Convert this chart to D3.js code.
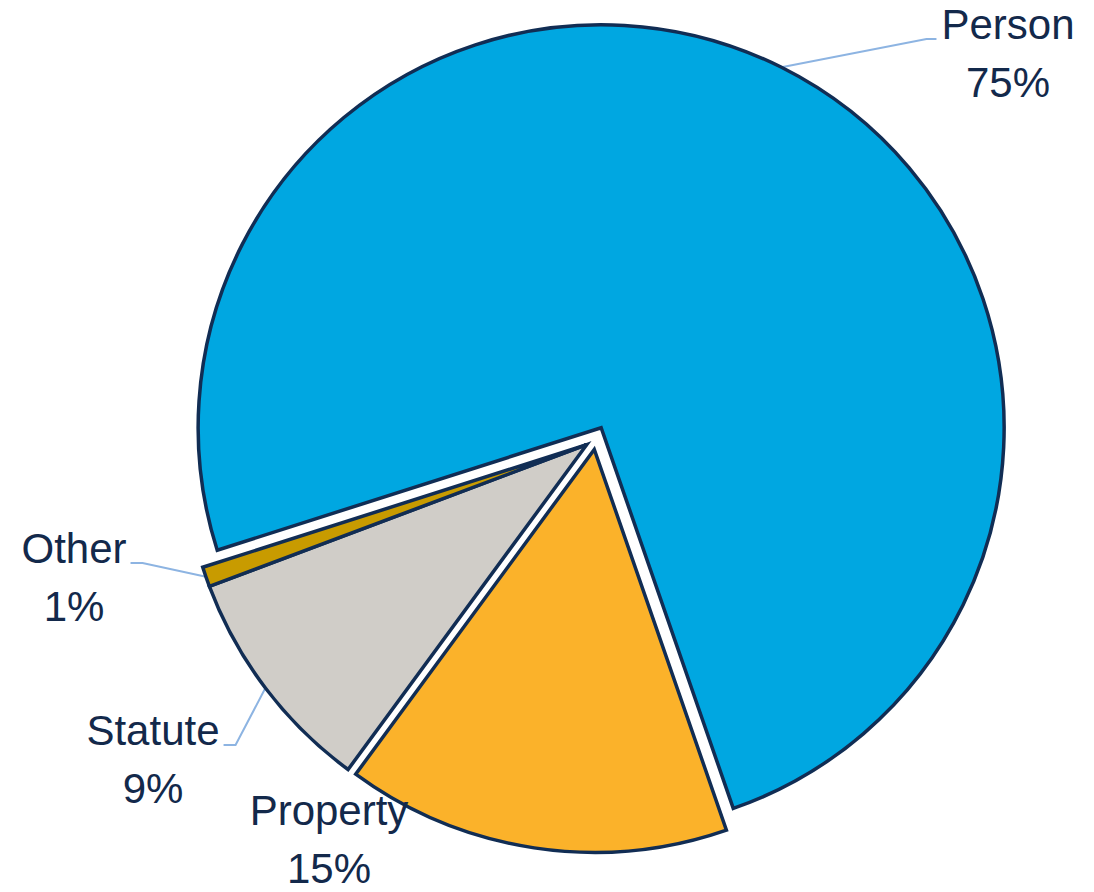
<!DOCTYPE html>
<html>
<head>
<meta charset="utf-8">
<script src="https://cdn.jsdelivr.net/npm/d3@7/dist/d3.min.js"></script>
<style>
  html, body { margin: 0; padding: 0; background: #ffffff; }
  svg { display: block; }
</style>
</head>
<body>
<svg id="chart" width="1094" height="892"></svg>
<script>
// Case categories and their share of the total (percent)
const categories = ["Person", "Property", "Statute", "Other"];
const shares = [74.6, 15.4, 9.2, 0.8];
const colors = ["#00A7E1", "#FBB22A", "#D0CDC8", "#C89B00"];

const W = 1094, H = 892;
const cx = 596, cy = 438;       // pie centre
const radius = 403;
const explode = 11.5;           // distance each slice is pulled out
const startDeg = -107.7;        // first slice starts here (clockwise from 12 o'clock)
const outline = "#112D54";
const textColor = "#13294B";
const leaderColor = "#8DB4E2";

const data = categories.map((name, i) => ({ name, value: shares[i], color: colors[i] }));

const a0 = startDeg * Math.PI / 180;
const pie = d3.pie().sort(null).value(d => d.value).startAngle(a0).endAngle(a0 + 2 * Math.PI);
const arcs = pie(data);

const arc = d3.arc().innerRadius(0).outerRadius(radius);

// Explosion direction: each slice along its bisector; the two small
// trailing slices move out together as one block.
const n = arcs.length;
const blockMid = (arcs[n - 2].startAngle + arcs[n - 1].endAngle) / 2;
arcs.forEach((d, i) => {
  const mid = i >= n - 2 ? blockMid : (d.startAngle + d.endAngle) / 2;
  d.dx = explode * Math.sin(mid);
  d.dy = -explode * Math.cos(mid);
});

const total = d3.sum(shares);
const pct = d3.format(".0%");

const svg = d3.select("#chart");
svg.append("rect").attr("width", W).attr("height", H).attr("fill", "#ffffff");

const g = svg.append("g").attr("transform", `translate(${cx},${cy})`);

g.selectAll("path.slice")
  .data(arcs)
  .join("path")
  .attr("class", "slice")
  .attr("transform", d => `translate(${d.dx},${d.dy})`)
  .attr("d", arc)
  .attr("fill", d => d.data.color)
  .attr("stroke", outline)
  .attr("stroke-width", 3.5)
  .attr("stroke-linejoin", "miter");

// Label placement (centre x, first-line baseline, leader side)
const labelLayout = {
  Person:   { x: 1008, y: 39,  leader: "left"  },
  Property: { x: 329,  y: 825, leader: null    },
  Statute:  { x: 153,  y: 745, leader: "right" },
  Other:    { x: 74,   y: 563, leader: "right" }
};

const fontSize = 42;
const lineGap = 58;

const labels = svg.append("g")
  .attr("font-family", "'Liberation Sans', Arial, Helvetica, sans-serif")
  .attr("font-size", fontSize)
  .attr("fill", textColor)
  .attr("text-anchor", "middle");

arcs.forEach(d => {
  const lay = labelLayout[d.data.name];
  const t = labels.append("text").attr("x", lay.x).attr("y", lay.y);
  t.append("tspan").attr("x", lay.x).attr("y", lay.y).text(d.data.name);
  t.append("tspan").attr("x", lay.x).attr("y", lay.y + lineGap).text(pct(d.data.value / total));

  if (!lay.leader) return;
  const firstLine = t.select("tspan").node().getBBox();
  const mid = (d.startAngle + d.endAngle) / 2;
  const ax = cx + d.dx + radius * Math.sin(mid);
  const ay = cy + d.dy - radius * Math.cos(mid);
  let x1, x2;
  if (lay.leader === "left") {
    x1 = firstLine.x - 5;
    x2 = x1 - 10;
  } else {
    x1 = firstLine.x + firstLine.width + 4;
    x2 = x1 + 12;
  }
  svg.insert("path", "g")
    .attr("d", d3.line()([[x1, lay.y], [x2, lay.y], [ax, ay]]))
    .attr("fill", "none")
    .attr("stroke", leaderColor)
    .attr("stroke-width", 2);
});
</script>
</body>
</html>
